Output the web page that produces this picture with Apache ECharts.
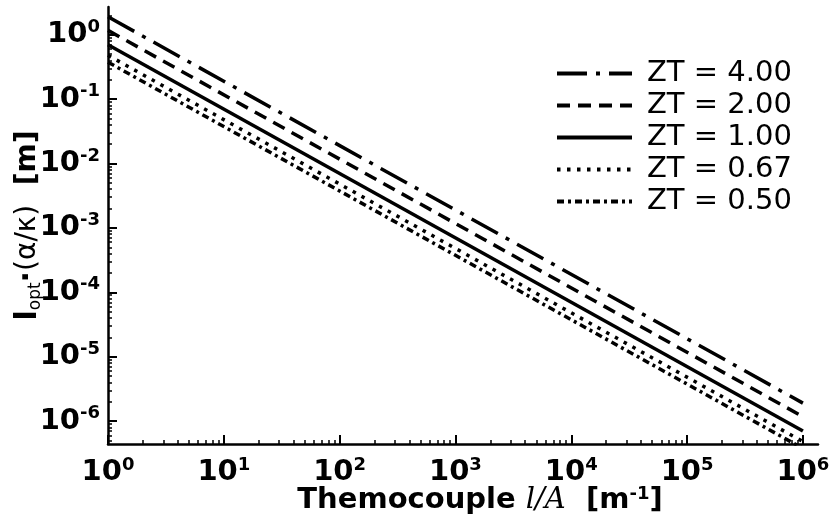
<!DOCTYPE html>
<html>
<head>
<meta charset="utf-8">
<script src="https://cdn.jsdelivr.net/npm/echarts@6/dist/echarts.min.js"></script>
<style>
  html, body { margin: 0; padding: 0; background: #fff; }
  #chart { width: 835px; height: 520px; }
</style>
</head>
<body>
<div id="chart"></div>
<script>
// l/A values at the two ends of each line (log-log straight lines)
const xEnds = [1, 1e6];
const zt400 = [1.9, 1.9e-6];
const zt200 = [1.17, 1.17e-6];
const zt100 = [0.70, 0.70e-6];
const zt067 = [0.48, 0.48e-6];
const zt050 = [0.375, 0.375e-6];

const seriesNames = ['ZT = 4.00', 'ZT = 2.00', 'ZT = 1.00', 'ZT = 0.67', 'ZT = 0.50'];
const xMajorTicks = [1, 10, 100, 1000, 10000, 100000, 1000000];
const yMajorTicks = [1e-6, 1e-5, 1e-4, 1e-3, 1e-2, 1e-1, 1];
const minorDigits = [2, 3, 4, 5, 6, 7, 8, 9];

const FONT = 'DejaVu Sans';

function minorTicks(decades) {
    const out = [];
    decades.forEach(d => minorDigits.forEach(k => out.push(k * d)));
    return out;
}

function powLabel(val) {
    const e = Math.round(Math.log10(val));
    return '{b|10}{s|' + e + '}';
}

const labelRich = {
    b: { fontFamily: FONT, fontWeight: 'bold', fontSize: 29, color: '#000', lineHeight: 33 },
    s: { fontFamily: FONT, fontWeight: 'bold', fontSize: 18, color: '#000', verticalAlign: 'top', lineHeight: 18 }
};

const chart = echarts.init(document.getElementById('chart'));

const lineStyles = [
    { type: [30, 9, 4, 9] },
    { type: [13, 8] },
    { type: 'solid' },
    { type: [3.5, 6.5] },
    { type: [7, 4, 3, 4] }
];
const data = [zt400, zt200, zt100, zt067, zt050];

const option = {
    backgroundColor: '#fff',
    animation: false,
    grid: { left: 108, right: 17, top: 7, bottom: 76, containLabel: false, outerBoundsMode: 'none' },
    legend: {
        data: seriesNames,
        left: 550,
        top: 54,
        orient: 'vertical',
        itemWidth: 75,
        itemHeight: 14,
        itemGap: 3,
        itemStyle: { opacity: 0 },
        lineStyle: { width: 4 },
        textStyle: { fontFamily: FONT, fontSize: 29, color: '#000', lineHeight: 29, padding: [0, 0, 0, 10] }
    },
    xAxis: [{
        type: 'log',
        min: 1,
        max: 1.35e6,
        position: 'bottom',
        axisLine: { lineStyle: { color: '#000', width: 2.5 } },
        axisTick: { inside: true, length: 9, lineStyle: { color: '#000', width: 2 }, customValues: xMajorTicks },
        axisLabel: { margin: 12, customValues: xMajorTicks, formatter: powLabel, rich: labelRich },
        splitLine: { show: false },
        name: '{t|Themocouple }{i|l/A}{t|  [m}{s|-1}{t|]}',
        nameLocation: 'middle',
        nameGap: 41,
        nameMoveOverlap: false,
        nameTextStyle: {
            padding: [0, 0, 0, 34],
            rich: {
                t: { fontFamily: FONT, fontWeight: 'bold', fontSize: 29, color: '#000', lineHeight: 30 },
                i: { fontFamily: 'DejaVu Serif', fontStyle: 'italic', fontSize: 29, color: '#000', lineHeight: 30 },
                s: { fontFamily: FONT, fontWeight: 'bold', fontSize: 18, color: '#000', verticalAlign: 'top', lineHeight: 18 }
            }
        }
    }, {
        type: 'log',
        min: 1,
        max: 1.35e6,
        position: 'bottom',
        axisLine: { show: false },
        axisTick: { inside: true, length: 4, lineStyle: { color: '#000', width: 1.5 }, customValues: minorTicks([1, 10, 100, 1000, 10000, 100000]) },
        axisLabel: { show: false },
        splitLine: { show: false }
    }],
    yAxis: [{
        type: 'log',
        min: 4.4e-7,
        max: 2.7,
        position: 'left',
        axisLine: { lineStyle: { color: '#000', width: 2.5 } },
        axisTick: { inside: true, length: 9, lineStyle: { color: '#000', width: 2 }, customValues: yMajorTicks },
        axisLabel: { margin: 8, customValues: yMajorTicks, formatter: powLabel, rich: labelRich },
        splitLine: { show: false },
        name: '{l|l}{sub|opt}{dot|·}{p|(α/κ)}{m|  [m]}',
        nameLocation: 'middle',
        nameRotate: 90,
        nameGap: 64,
        nameMoveOverlap: false,
        nameTextStyle: {
            rich: {
                l: { fontFamily: FONT, fontWeight: 'bold', fontSize: 30, color: '#000', lineHeight: 32 },
                sub: { fontFamily: FONT, fontSize: 17, color: '#000', verticalAlign: 'bottom', lineHeight: 24 },
                dot: { fontFamily: FONT, fontWeight: 'bold', fontSize: 30, color: '#000', lineHeight: 32 },
                p: { fontFamily: FONT, fontSize: 28, color: '#000', lineHeight: 32 },
                m: { fontFamily: FONT, fontWeight: 'bold', fontSize: 28, color: '#000', lineHeight: 32 }
            }
        }
    }, {
        type: 'log',
        min: 4.4e-7,
        max: 2.7,
        position: 'left',
        axisLine: { show: false },
        axisTick: { inside: true, length: 4, lineStyle: { color: '#000', width: 1.5 }, customValues: minorTicks([1e-7, 1e-6, 1e-5, 1e-4, 1e-3, 1e-2, 1e-1, 1]) },
        axisLabel: { show: false },
        splitLine: { show: false }
    }],
    series: seriesNames.map((name, i) => ({
        name: name,
        type: 'line',
        xAxisIndex: 0,
        yAxisIndex: 0,
        symbol: 'none',
        color: '#000',
        lineStyle: Object.assign({ color: '#000', width: 3.5, cap: 'butt' }, lineStyles[i]),
        data: xEnds.map((x, j) => [x, data[i][j]])
    }))
};

chart.setOption(option);
</script>
</body>
</html>
